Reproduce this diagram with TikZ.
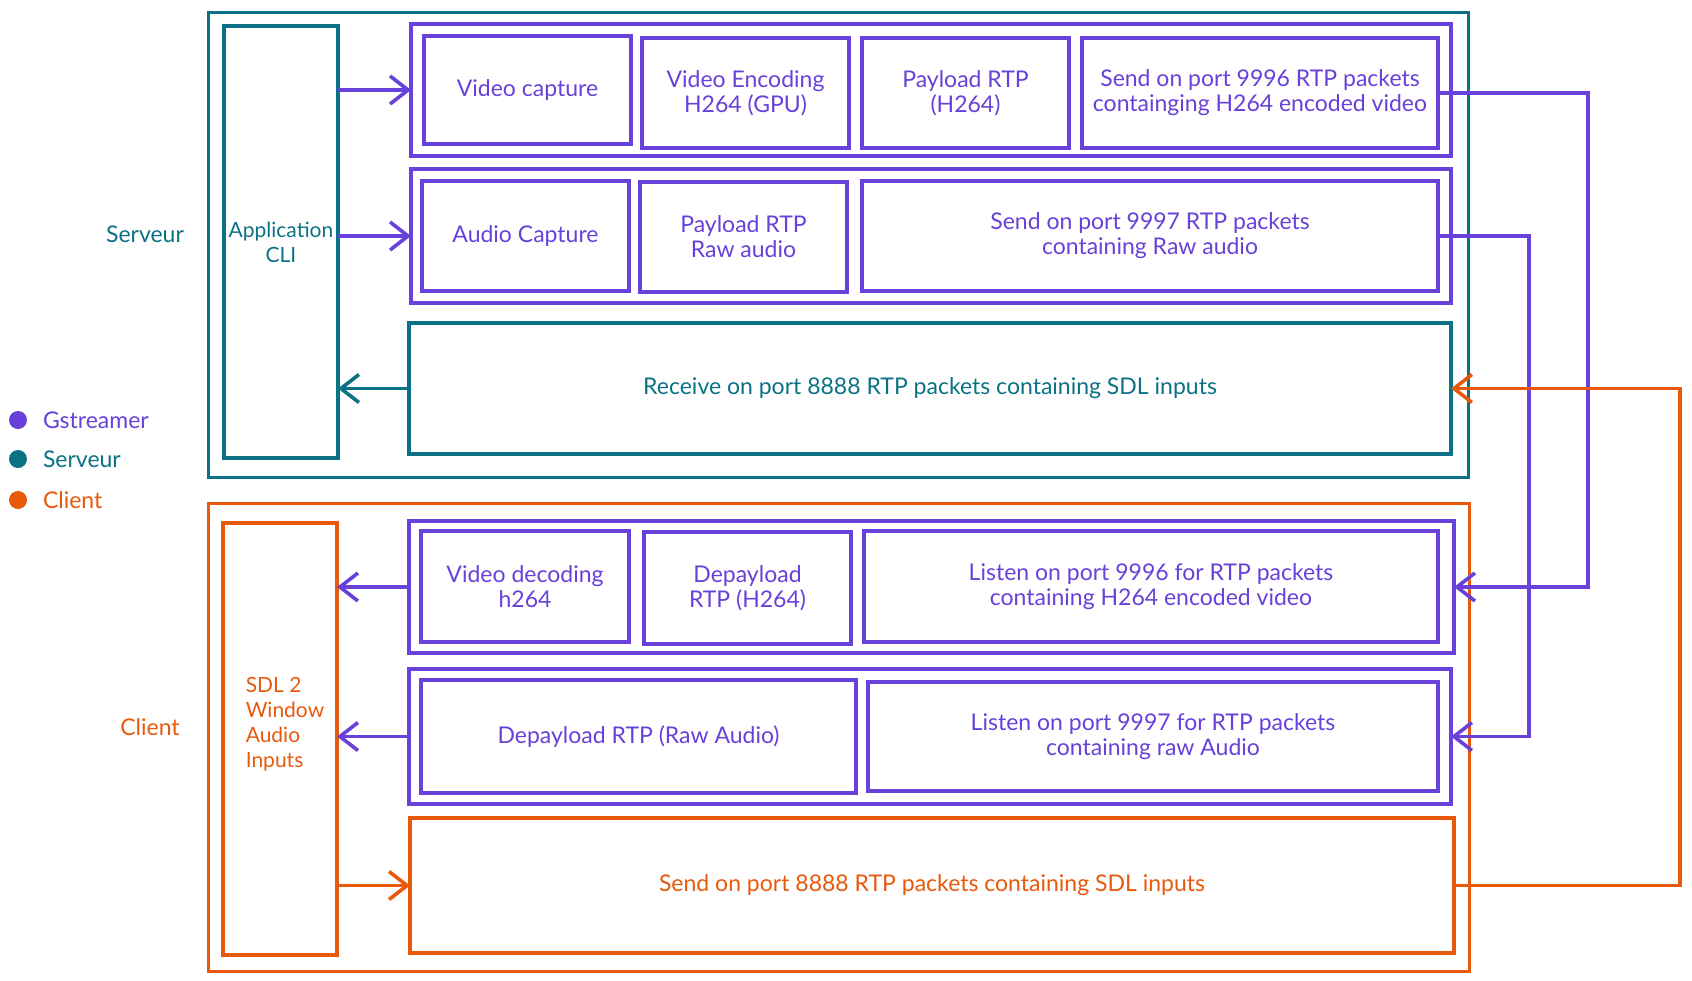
\documentclass[tikz,border=0pt]{standalone}
\usepackage{fontspec}
\setmainfont{Lato}
\usetikzlibrary{positioning}
\usetikzlibrary{arrows.meta}

\definecolor{cgst}{HTML}{6741D9}
\definecolor{csrv}{HTML}{0B7285}
\definecolor{ccli}{HTML}{E8590C}

\begin{document}
\begin{tikzpicture}
  [
  x=0.5pt, y=-0.5pt,
  % 文字の設定
  every node/.style={inner sep=0, outer sep=0, align=center,
  font=\fontsize{11.5}{12.5}\selectfont},
  % 矢印の設定
  arrow/.style={-{Straight Barb[length=9pt, width=14pt]}, line width=1.8pt},
  % 外枠
  outerbox/.style={rectangle, draw, line width=1.5pt},
  % パイプライン
  pipe/.style={rectangle, draw=cgst, line width=2pt},
  % ブロック
  block/.style={rectangle, draw, line width=2pt},
  gblk/.style={block, draw=cgst, text=cgst},
  tblk/.style={block, draw=csrv, text=csrv},
  oblk/.style={block, draw=ccli, text=ccli},
  % 大きさ
  size/.style 2 args={minimum width=#1pt, minimum height=#2pt},
  % 凡例の点
  dot/.style={circle, minimum size=9pt}
  ]
  \useasboundingbox (0,0) rectangle (1692,980);

  % サーバー
  \node [outerbox, draw=csrv, size={630}{232.5}] (srv) at (838,244.5) {};
  \node [tblk, size={57}{216}, font=\fontsize{10.5}{12.5}\selectfont]
  (app) at (281,242) {Application\\CLI};
  \node [pipe, size={520}{66}] (vpipe) at (931,90) {};
  \node [gblk, size={103.5}{54}] (vcap) at (527.5,90) {Video capture};
  \node [gblk, size={103.5}{55}] (venc) at (745.5,93)
  {Video Encoding\\H264 (GPU)};
  \node [gblk, size={103.5}{55}] (vpay) at (965.5,93) {Payload RTP\\(H264)};
  \node [gblk, size={178}{55}] (vsend) at (1260,93)
  {Send on port 9996 RTP packets\\containging H264 encoded video};
  \node [pipe, size={520}{67}] (apipe) at (931,236) {};
  \node [gblk, size={103.5}{55}] (acap) at (525.5,236) {Audio Capture};
  \node [gblk, size={103.5}{55}] (apay) at (743.5,237) {Payload RTP\\Raw audio};
  \node [gblk, size={288}{55}] (asend) at (1150,236)
  {Send on port 9997 RTP packets\\containing Raw audio};
  \node [tblk, size={521}{65.5}] (recv) at (930,388.5)
  {Receive on port 8888 RTP packets containing SDL inputs};

  % クライアント
  \node [outerbox, draw=ccli, size={630.5}{234}] (clt) at (838.5,737) {};
  \node [oblk, size={57}{216}] (sdl) at (280,739) {};
  \node [text=ccli, align=left, font=\fontsize{10.5}{12.5}\selectfont]
  (sdltxt) at (285,724) {SDL 2\\Window\\Audio\\Inputs};
  \node [pipe, size={522.5}{66}] (vdpipe) at (931.5,587) {};
  \node [gblk, size={104}{55.5}] (vdec) at (525,586.5) {Video decoding\\h264};
  \node [gblk, size={103.5}{56}] (vdepay) at (747.5,588) {Depayload\\RTP (H264)};
  \node [gblk, size={287}{55.5}] (vlisten) at (1151,586.5)
  {Listen on port 9996 for RTP packets\\containing H264 encoded video};
  \node [pipe, size={521}{67.5}] (adpipe) at (930,736.5) {};
  \node [gblk, size={217.5}{56.5}] (adepay) at (638.5,736.5)
  {Depayload RTP (Raw Audio)};
  \node [gblk, size={285}{54.5}] (alisten) at (1153,736.5)
  {Listen on port 9997 for RTP packets\\containing raw Audio};
  \node [oblk, size={522}{67.5}] (csend) at (932,885.5)
  {Send on port 8888 RTP packets containing SDL inputs};

  % ラベル
  \node [text=csrv] (srvlbl) at (145,234) {Serveur};
  \node [text=ccli] (cltlbl) at (150,727) {Client};

  % 凡例
  \node [dot, fill=cgst] (lgst) at (18,420) {};
  \node [dot, fill=csrv] (lsrv) at (18,459) {};
  \node [dot, fill=ccli] (lclt) at (18,500) {};
  \node [text=cgst, right=8pt of lgst] (lgsttxt) {Gstreamer};
  \node [text=csrv, right=8pt of lsrv] (lsrvtxt) {Serveur};
  \node [text=ccli, right=8pt of lclt] (lclttxt) {Client};

  % 内部の矢印
  \draw [arrow, cgst] (app.east |- vpipe.west) -- (vpipe.west);
  \draw [arrow, cgst] (app.east |- apipe.west) -- (apipe.west);
  \draw [arrow, csrv] (recv.west) -- (app.east |- recv.west);
  \draw [arrow, cgst] (vdpipe.west) -- (sdl.east |- vdpipe.west);
  \draw [arrow, cgst] (adpipe.west) -- (sdl.east |- adpipe.west);
  \draw [arrow, ccli] (sdl.east |- csend.west) -- (csend.west);

  % ネットワーク
  \coordinate (rv) at (1588,0);
  \coordinate (ra) at (1529,0);
  \coordinate (rc) at (1680,0);
  \draw [arrow, cgst] (vsend.east) -- (vsend.east -| rv) |- (vdpipe.east);
  \draw [arrow, cgst] (asend.east) -- (asend.east -| ra) |- (adpipe.east);
  \draw [arrow, ccli] (csend.east) -- (csend.east -| rc) |- (recv.east);
\end{tikzpicture}
\end{document}
